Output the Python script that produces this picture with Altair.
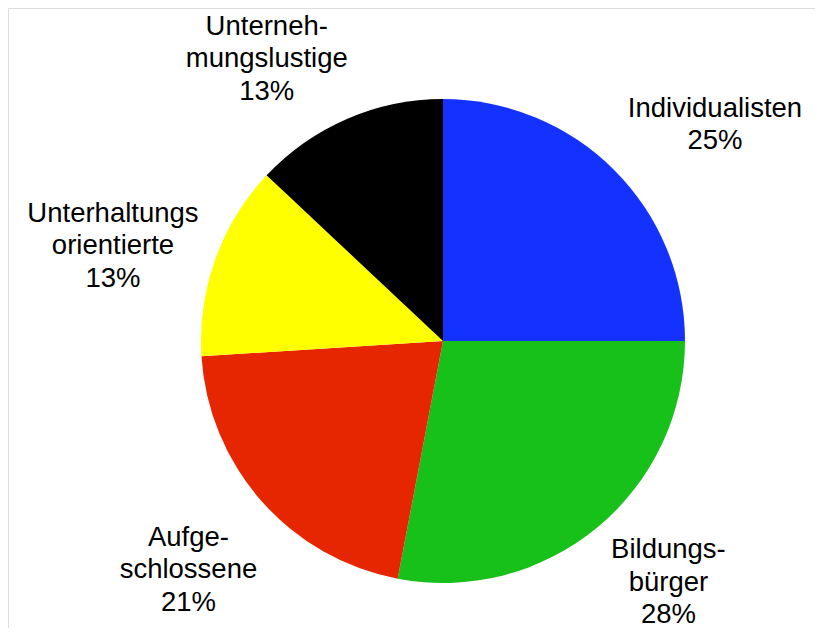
import altair as alt
import pandas as pd

categories = ["Individualisten", "Bildungsbürger", "Aufgeschlossene", "Unterhaltungsorientierte", "Unternehmungslustige"]
labels = ["Individualisten\n25%", "Bildungs-\nbürger\n28%", "Aufge-\nschlossene\n21%", "Unterhaltungs\norientierte\n13%", "Unterneh-\nmungslustige\n13%"]
values = [25, 28, 21, 13, 13]
colors = ["#1432FF", "#17C11A", "#E52600", "#FFFF00", "#000000"]
# label nudges (dx, dy) relative to the slice-midpoint anchor
nudges = [(33, 7), (10, -51), (-1, -27), (-12, -13), (-42, -4)]

df = pd.DataFrame({"cat": categories, "label": labels, "value": values, "order": list(range(len(values)))})

cx, cy = 435, 333

base = alt.Chart(df).encode(
    theta=alt.Theta("value:Q", stack=True),
    order=alt.Order("order:Q"),
    x=alt.value(cx),
    y=alt.value(cy),
)

pie = base.mark_arc(outerRadius=242, stroke=None).encode(
    color=alt.Color("cat:N", scale=alt.Scale(domain=categories, range=colors), legend=None)
)

layers = [pie]
for cat, (ddx, ddy) in zip(categories, nudges):
    t = base.mark_text(radius=338, fontSize=27.5, font="Liberation Sans", lineBreak="\n", lineHeight=32.5,
                       baseline="middle", align="center", color="black", dx=ddx, dy=ddy).encode(
        text="label:N",
        opacity=alt.condition(alt.datum.cat == cat, alt.value(1), alt.value(0)),
    )
    layers.append(t)

chart = alt.layer(*layers).properties(
    width=807, height=620, padding=0, autosize=alt.AutoSizeParams(type="none")
).configure_view(stroke=None).configure(background="white")

chart.save("out.html", embed_options={"renderer": "svg", "actions": False})
